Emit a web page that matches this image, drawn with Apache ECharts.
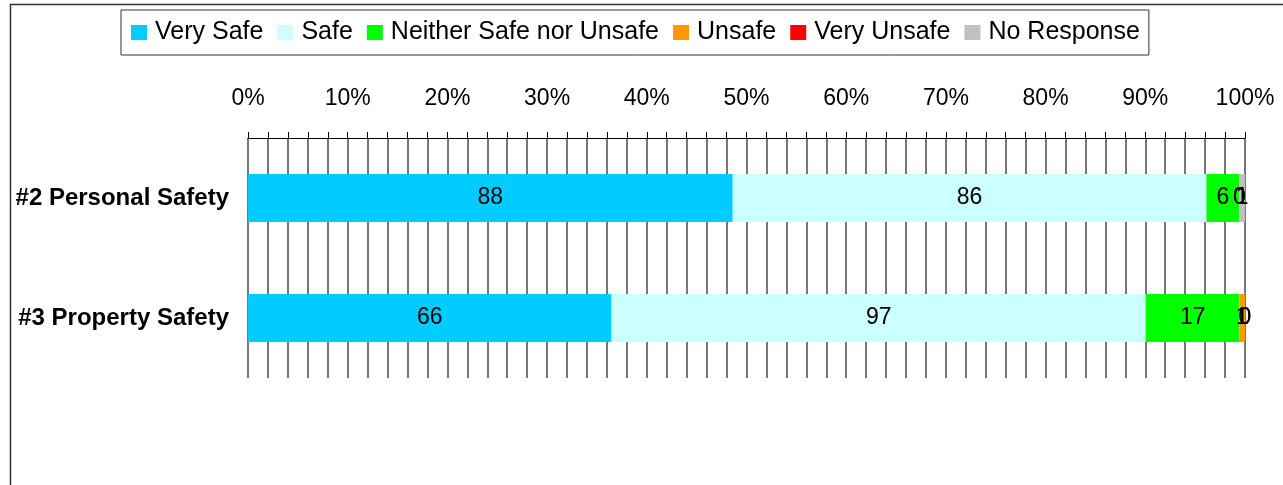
<!DOCTYPE html>
<html>
<head>
<meta charset="utf-8">
<title>Safety chart</title>
<script src="https://cdn.jsdelivr.net/npm/echarts@6/dist/echarts.min.js"></script>
<style>
  html, body { margin: 0; padding: 0; background: #fff; }
  #chart { width: 1283px; height: 485px; }
</style>
</head>
<body>
<div id="chart"></div>
<script>
// 题目 / 类别
const categories = ['#2 Personal Safety', '#3 Property Safety'];
const seriesNames = ['Very Safe', 'Safe', 'Neither Safe nor Unsafe', 'Unsafe', 'Very Unsafe', 'No Response'];
const seriesColors = ['#00CCFF', '#CCFFFF', '#00FF00', '#FF9900', '#FF0000', '#C0C0C0'];
// 每个回答的人数（按类别顺序）
const verySafe = [88, 66];
const safe = [86, 97];
const neither = [6, 17];
const unsafe = [0, 1];
const veryUnsafe = [0, 0];
const noResponse = [1, 0];
const xTicks = [0, 10, 20, 30, 40, 50, 60, 70, 80, 90, 100];

const counts = [verySafe, safe, neither, unsafe, veryUnsafe, noResponse];
// 每个类别的总人数，用来换算百分比
const totals = categories.map((c, i) => counts.reduce((s, arr) => s + arr[i], 0));

let myChart = echarts.init(document.getElementById('chart'));

myChart.setOption({
  animation: false,
  textStyle: { fontFamily: 'Liberation Sans, Arial, sans-serif', color: '#000' },
  graphic: [
    {
      type: 'rect',
      shape: { x: 10.5, y: 4.5, width: 1300, height: 520 },
      style: { fill: 'none', stroke: '#333', lineWidth: 1.5 },
      silent: true,
    },
  ],
  legend: {
    top: 10,
    left: 121,
    data: seriesNames,
    icon: 'rect',
    itemWidth: 16,
    itemHeight: 15,
    itemGap: 14,
    padding: [10, 9, 10, 10],
    borderColor: '#333',
    borderWidth: 1,
    textStyle: { fontSize: 25, lineHeight: 25, color: '#000', padding: [0, 0, 0, 3] },
  },
  grid: { left: 248, right: 38, top: 138, height: 240, containLabel: false },
  xAxis: {
    type: 'value',
    position: 'top',
    min: 0,
    max: 100,
    interval: 10,
    axisLine: { show: true, lineStyle: { color: '#000', width: 1 } },
    axisTick: { show: true, length: 6, lineStyle: { color: '#000' } },
    minorTick: { show: true, splitNumber: 5, length: 6, lineStyle: { color: '#000' } },
    splitLine: { show: true, lineStyle: { color: '#4a4a4a', width: 1.5 } },
    minorSplitLine: { show: true, lineStyle: { color: '#4a4a4a', width: 1.5 } },
    axisLabel: {
      margin: 28,
      fontSize: 23,
      color: '#000',
      formatter: (v) => (xTicks.indexOf(v) >= 0 ? v + '%' : ''),
    },
  },
  yAxis: {
    type: 'category',
    inverse: true,
    data: categories,
    axisLine: { show: false },
    axisTick: { show: false },
    axisLabel: { margin: 19, fontSize: 24, fontWeight: 'bold', color: '#000' },
  },
  series: seriesNames.map((name, k) => ({
    name: name,
    type: 'bar',
    stack: 'total',
    barCategoryGap: '60%',
    itemStyle: { color: seriesColors[k] },
    label: {
      show: true,
      position: 'inside',
      fontSize: 23,
      color: '#000',
      formatter: (p) => String(counts[k][p.dataIndex]),
    },
    data: counts[k].map((v, i) => (v / totals[i]) * 100),
  })),
});
</script>
</body>
</html>
